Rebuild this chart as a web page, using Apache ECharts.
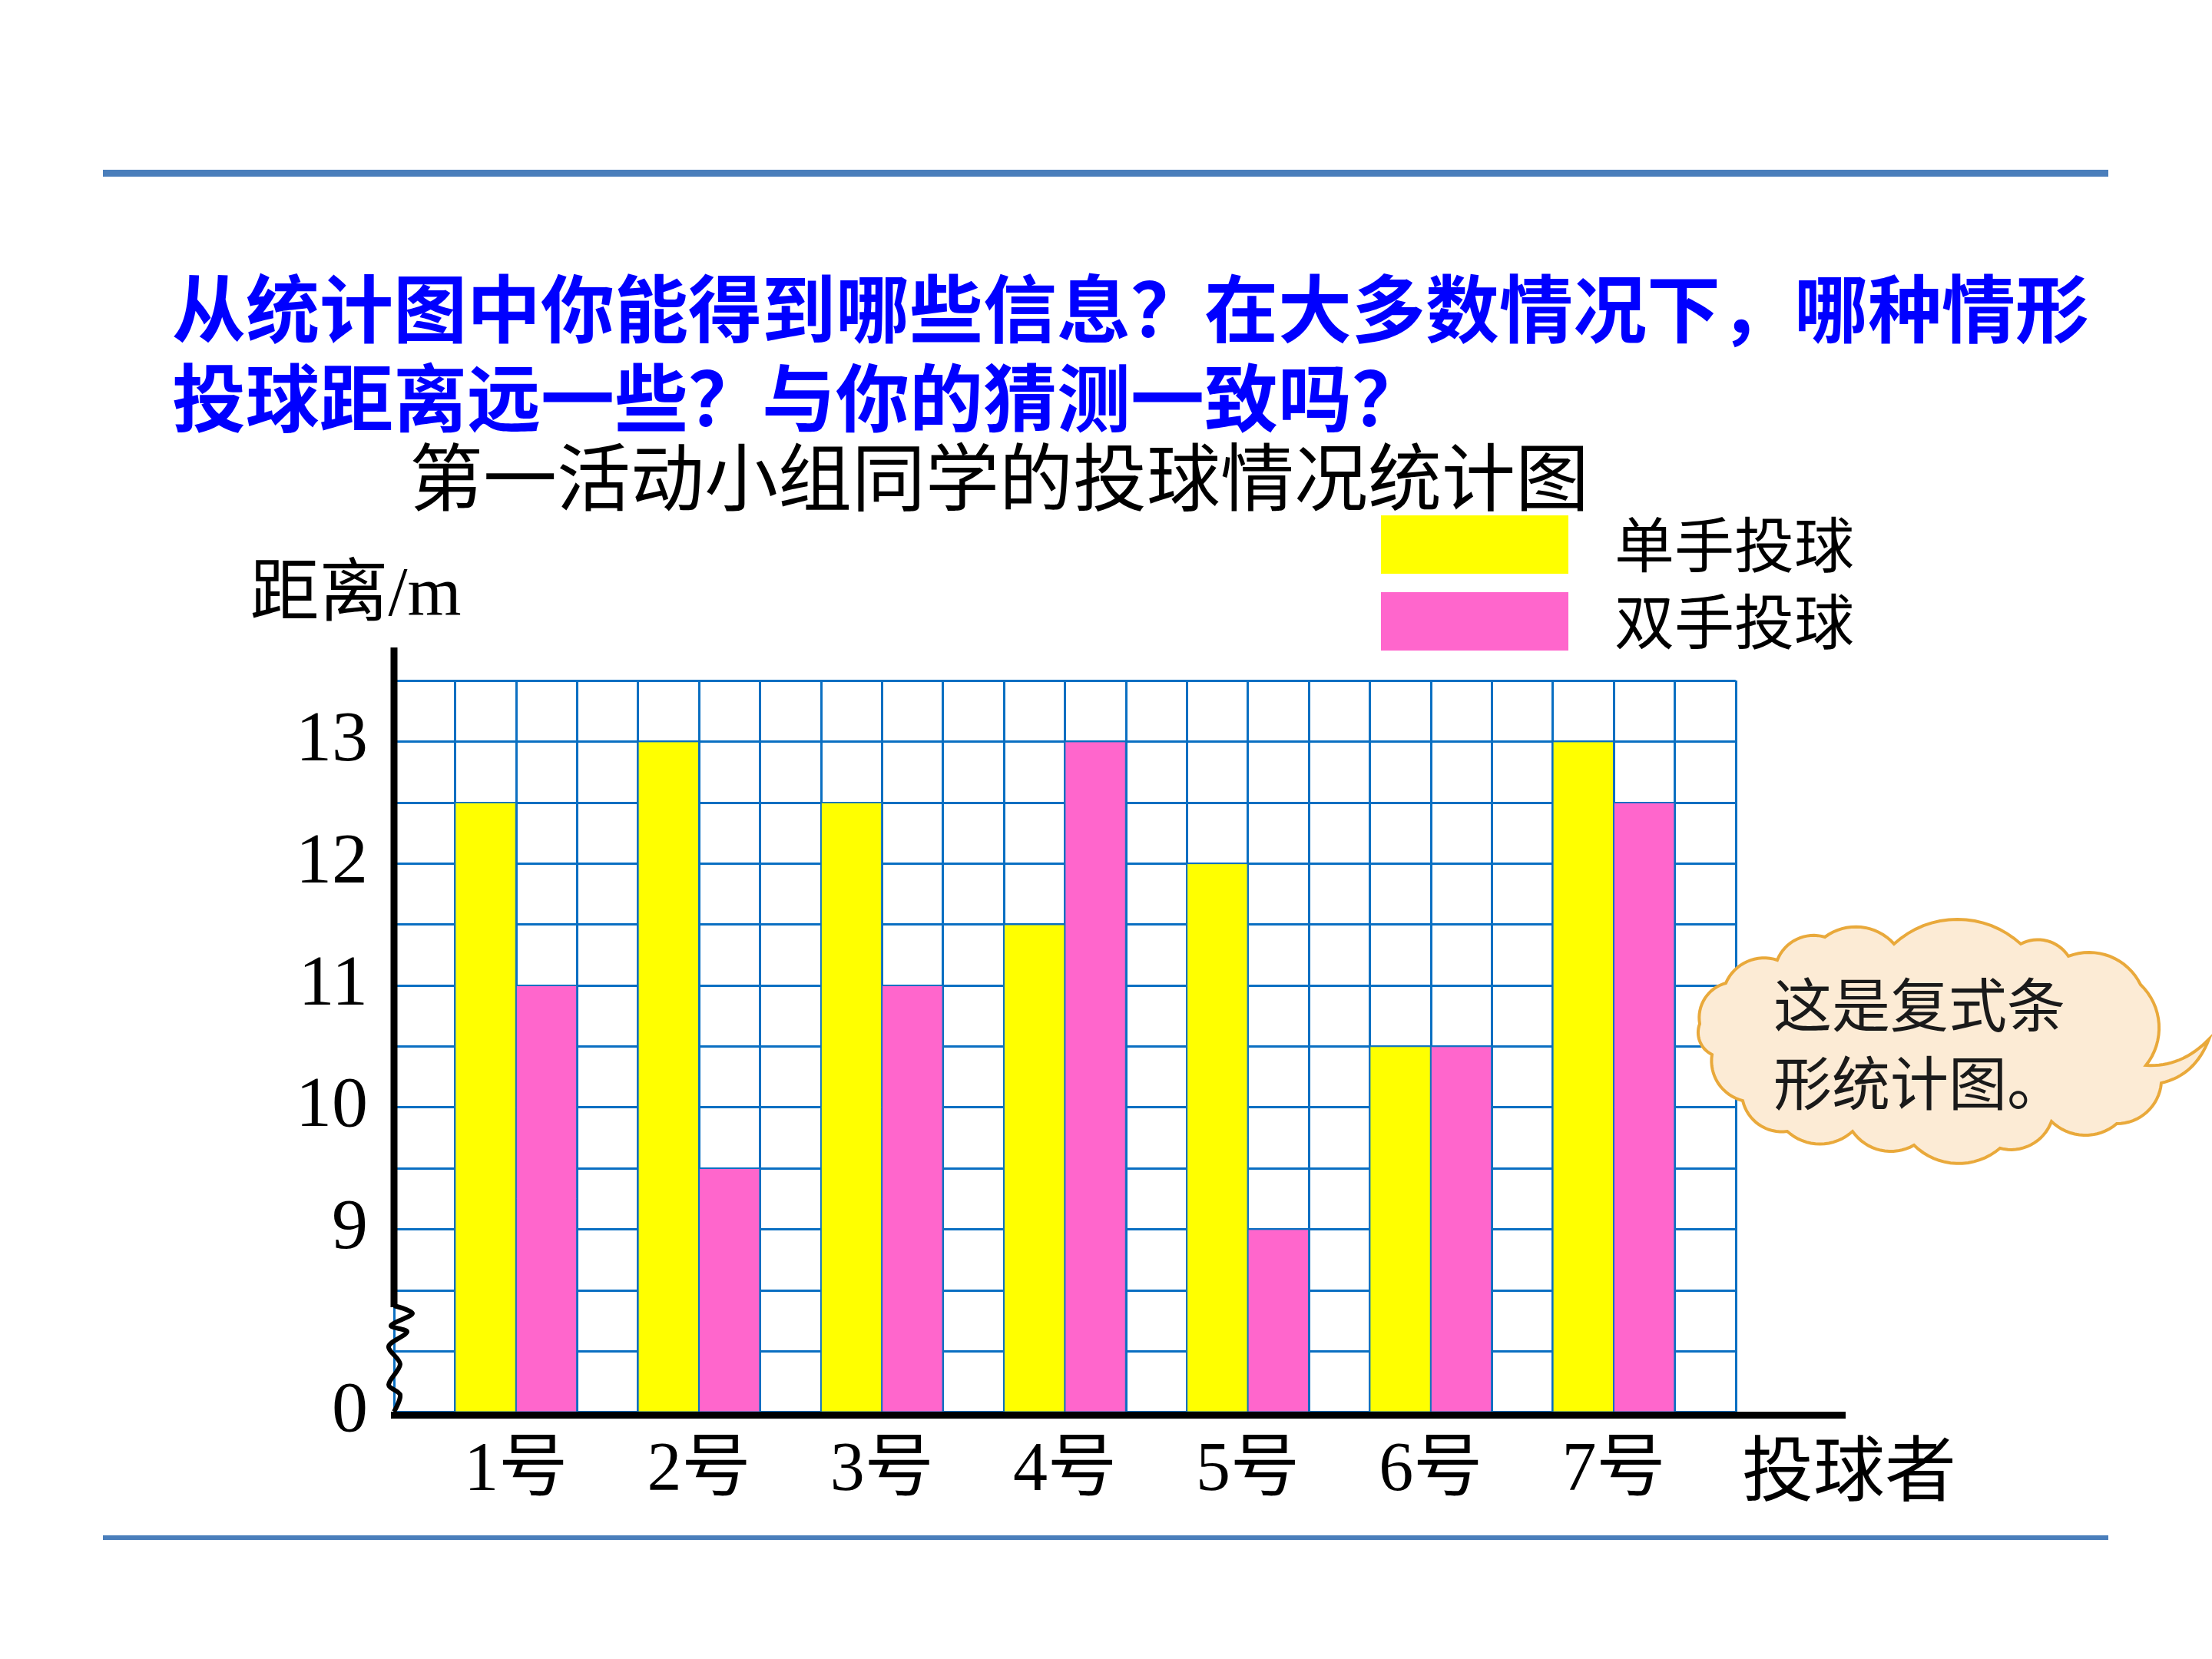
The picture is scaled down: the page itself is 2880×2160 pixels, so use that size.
<!DOCTYPE html>
<html><head><meta charset="utf-8">
<script src="https://cdn.jsdelivr.net/npm/echarts@6/dist/echarts.min.js"></script>
<style>html,body{margin:0;padding:0;background:#fff}#c{width:2880px;height:2160px}</style>
</head><body><div id="c"></div>
<script>
// ---- data ----
const categories = ['1号', '2号', '3号', '4号', '5号', '6号', '7号'];
const seriesNames = ['单手投球', '双手投球'];
const singleHand = [12.5, 13, 12.5, 11.5, 12, 10.5, 13];
const doubleHand = [11, 9.5, 11, 13, 9, 10.5, 12.5];
const yTickLabels = [9, 10, 11, 12, 13];
const yBreakLabel = '0';
const yAxisMin = 7.5;   // value at the broken-axis baseline (shown as 0)
const yAxisMax = 13.5;
const yStep = 0.5;
const questionText = '从统计图中你能得到哪些信息？在大多数情况下，哪种情形\n投球距离远一些？与你的猜测一致吗？';
const chartTitle = '第一活动小组同学的投球情况统计图';
const yAxisName = '距离/m';
const xAxisName = '投球者';
const bubbleLines = ['这是复式条', '形统计图。'];

// ---- layout ----
const COL = 79.4;
const NCOLS = 22;
const GRID_LEFT = 513, GRID_TOP = 886, GRID_H = 952.5;
const GRID_W = COL * NCOLS;
const BAR_LEFT = GRID_LEFT + COL * 0.5;
const BAR_W = COL * 21;
const GRIDLINE = '#0a6fc2';
const SERIF = "'Liberation Serif','Noto Sans CJK SC',serif";
const SANS = "'Noto Sans CJK SC',sans-serif";

// ---- speech bubble outline (decoration) ----
const J = [
  [2213, 1333], [2247, 1280], [2314, 1250], [2376, 1220], [2466, 1229], [2631, 1229],
  [2693, 1245], [2787, 1282], [2794, 1387]
];
const J2 = [
  [2814, 1410], [2756, 1463], [2671, 1460], [2604, 1495], [2492, 1491], [2412, 1473],
  [2327, 1473], [2269, 1433], [2229, 1373], [2213, 1333]
];
function arcPts(p, q, out) {
  const dx = q[0] - p[0], dy = q[1] - p[1];
  const d = Math.hypot(dx, dy);
  const r = d * 0.74;
  const h = Math.sqrt(r * r - d * d / 4);
  const nx = dy / d, ny = -dx / d;           // outward (left of travel)
  const cx = (p[0] + q[0]) / 2 - nx * h, cy = (p[1] + q[1]) / 2 - ny * h;
  const a0 = Math.atan2(p[1] - cy, p[0] - cx);
  let da = Math.atan2(q[1] - cy, q[0] - cx) - a0;
  while (da > Math.PI) da -= 2 * Math.PI;
  while (da <= -Math.PI) da += 2 * Math.PI;
  const n = 16;
  for (let i = 1; i <= n; i++) {
    const a = a0 + da * i / n;
    out.push([cx + r * Math.cos(a), cy + r * Math.sin(a)]);
  }
}
function quadPts(p, c, q, out) {
  const n = 16;
  for (let i = 1; i <= n; i++) {
    const t = i / n, u = 1 - t;
    out.push([u * u * p[0] + 2 * u * t * c[0] + t * t * q[0], u * u * p[1] + 2 * u * t * c[1] + t * t * q[1]]);
  }
}
const bubblePts = [J[0]];
for (let i = 1; i < J.length; i++) arcPts(J[i - 1], J[i], bubblePts);
quadPts(J[J.length - 1], [2840, 1390], [2876, 1353], bubblePts);
quadPts([2876, 1353], [2858, 1400], J2[0], bubblePts);
for (let i = 1; i < J2.length; i++) arcPts(J2[i - 1], J2[i], bubblePts);

const chart = echarts.init(document.getElementById('c'), null, {renderer: 'canvas'});
chart.setOption({
  backgroundColor: '#ffffff',
  animation: false,
  title: [
    {
      text: questionText, left: 224, top: 344, padding: 0,
      textStyle: {color: '#0000ff', fontSize: 96, fontWeight: 'bold', fontFamily: SANS, lineHeight: 116}
    },
    {
      text: chartTitle, left: 533, top: 573, padding: 0,
      textStyle: {color: '#000', fontSize: 96, fontWeight: 'normal', fontFamily: SANS, lineHeight: 96}
    }
  ],
  legend: {
    orient: 'vertical', left: 1798, top: 670, padding: 0,
    itemWidth: 244, itemHeight: 76, itemGap: 22, icon: 'rect',
    itemStyle: {borderWidth: 0},
    data: seriesNames,
    textStyle: {fontSize: 78, color: '#000', fontFamily: SANS, padding: [0, 0, 0, 55]}
  },
  grid: [
    {left: GRID_LEFT, top: GRID_TOP, width: GRID_W, height: GRID_H},
    {left: BAR_LEFT, top: GRID_TOP, width: BAR_W, height: GRID_H}
  ],
  xAxis: [
    {
      type: 'value', gridIndex: 0, min: 0, max: NCOLS, interval: 1,
      axisLine: {show: false}, axisTick: {show: false}, axisLabel: {show: false},
      splitLine: {show: true, lineStyle: {color: GRIDLINE, width: 3}}
    },
    {
      type: 'category', gridIndex: 1, data: categories,
      axisLine: {show: false}, axisTick: {show: false},
      axisLabel: {interval: 0, margin: 33, fontSize: 90, color: '#000', fontFamily: SERIF},
      splitLine: {show: false}
    }
  ],
  yAxis: [
    {
      type: 'value', gridIndex: 0, min: yAxisMin, max: yAxisMax, interval: yStep,
      name: yAxisName, nameLocation: 'end', nameGap: 64,
      nameTextStyle: {fontSize: 90, color: '#000', fontFamily: SERIF, align: 'center', verticalAlign: 'bottom',
        padding: [0, 100, 0, 0]},
      axisLine: {show: false}, axisTick: {show: false},
      axisLabel: {
        margin: 34, fontSize: 94, color: '#000', fontFamily: SERIF,
        showMinLabel: true, showMaxLabel: true,
        formatter: v => (Math.abs(v - yAxisMin) < 1e-6 ? yBreakLabel :
          (yTickLabels.indexOf(v) >= 0 ? String(v) : ''))
      },
      splitLine: {show: true, lineStyle: {color: GRIDLINE, width: 3}}
    },
    {
      type: 'value', gridIndex: 1, min: yAxisMin, max: yAxisMax, startValue: yAxisMin,
      axisLine: {show: false}, axisTick: {show: false}, axisLabel: {show: false},
      splitLine: {show: false}
    }
  ],
  series: [
    {
      name: seriesNames[0], type: 'bar', xAxisIndex: 1, yAxisIndex: 1,
      data: singleHand, barWidth: COL, barGap: '0%', clip: true,
      itemStyle: {color: '#ffff00', borderColor: GRIDLINE, borderWidth: 1}
    },
    {
      name: seriesNames[1], type: 'bar', xAxisIndex: 1, yAxisIndex: 1,
      data: doubleHand, barWidth: COL, barGap: '0%', clip: true,
      itemStyle: {color: '#ff66cc', borderColor: GRIDLINE, borderWidth: 1}
    }
  ],
  graphic: [
    {type: 'rect', z: 10, shape: {x: 134, y: 221, width: 2611, height: 9}, style: {fill: '#4a7ebb'}},
    {type: 'rect', z: 10, shape: {x: 134, y: 1999, width: 2611, height: 6}, style: {fill: '#4a7ebb'}},
    {type: 'line', z: 10, shape: {x1: 513, y1: 843, x2: 513, y2: 1702}, style: {stroke: '#000', lineWidth: 9}},
    {type: 'polyline', z: 10, shape: {points: [[513, 1700], [537, 1710], [509, 1726], [530, 1734], [506, 1753], [521, 1776], [506, 1803], [521, 1816], [513, 1838]], smooth: 0.3},
      style: {stroke: '#000', lineWidth: 6, fill: null}},
    {type: 'rect', z: 10, shape: {x: 509, y: 1838, width: 1894, height: 9}, style: {fill: '#000'}},
    {type: 'text', z: 10, x: 2268, y: 1912,
      style: {text: xAxisName, fontSize: 93, fontFamily: SANS, fill: '#000', verticalAlign: 'middle', align: 'left'}},
    {type: 'polygon', z: 10, shape: {points: bubblePts}, style: {fill: '#fcebd5', stroke: '#e9a93b', lineWidth: 4}},
    {type: 'text', z: 11, x: 2309, y: 1308,
      style: {text: bubbleLines[0], fontSize: 76, fontFamily: SANS, fill: '#1a1a1a', verticalAlign: 'middle', align: 'left'}},
    {type: 'text', z: 11, x: 2309, y: 1410,
      style: {text: bubbleLines[1], fontSize: 76, fontFamily: SANS, fill: '#1a1a1a', verticalAlign: 'middle', align: 'left'}}
  ]
});
</script></body></html>
